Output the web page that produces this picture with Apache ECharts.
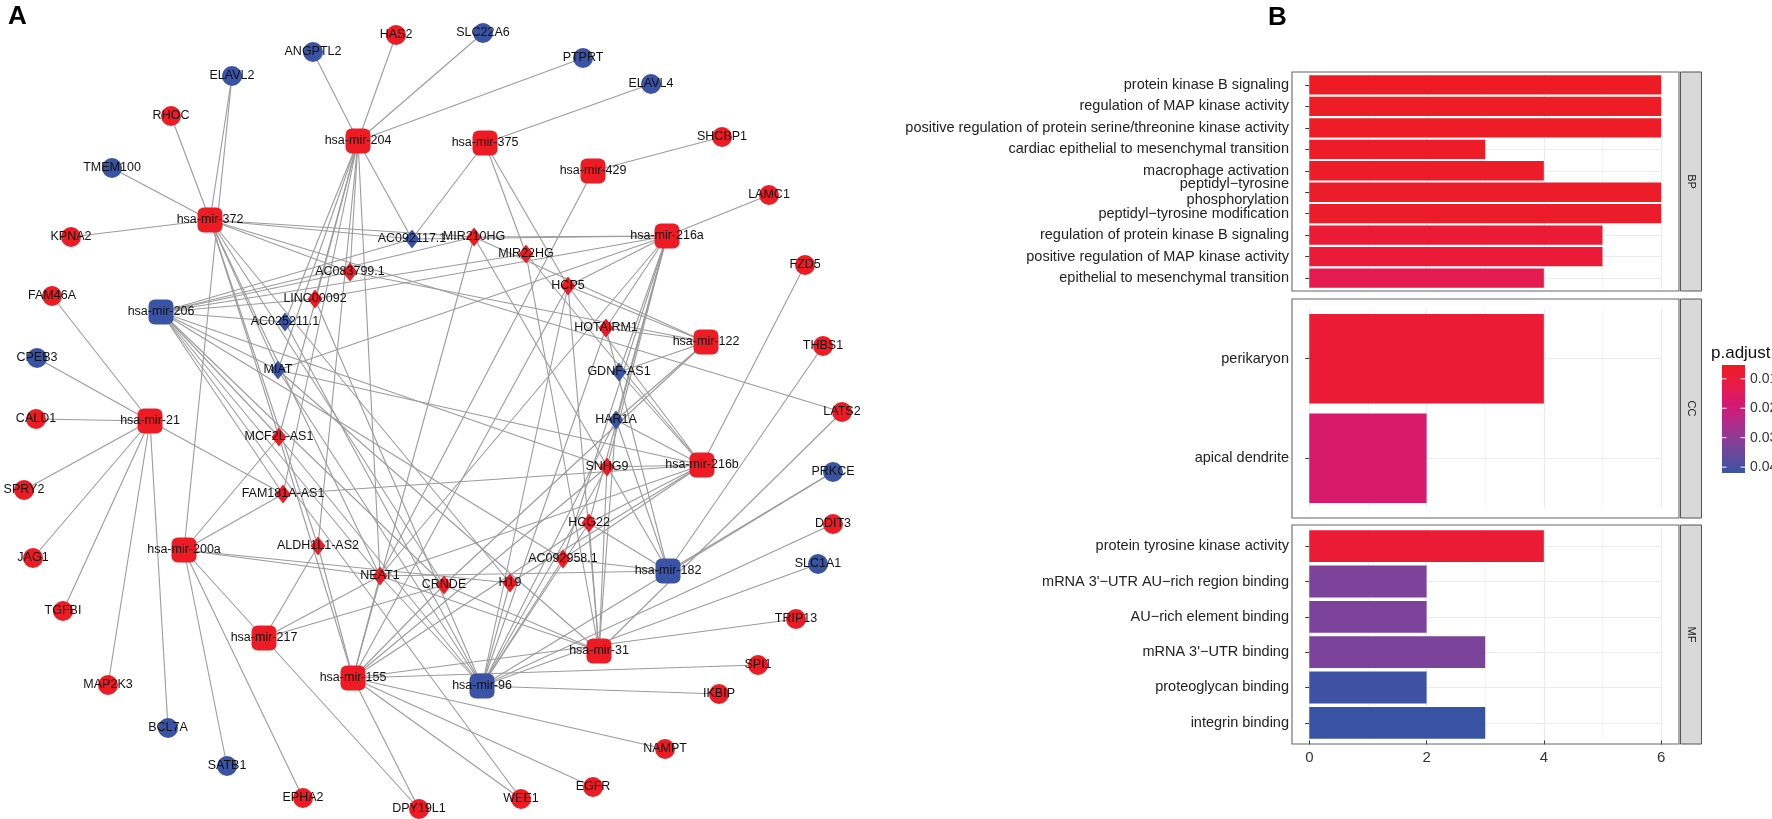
<!DOCTYPE html>
<html><head><meta charset="utf-8">
<script src="https://cdn.jsdelivr.net/npm/echarts@6/dist/echarts.min.js"></script>
<style>html,body{margin:0;padding:0;background:#fff}#c{width:1772px;height:819px}</style>
</head><body><div id="c"></div>
<script>
// ===== Panel A: ceRNA network (layout coordinates) =====
const nodeNames = [
 'hsa-mir-204','hsa-mir-375','hsa-mir-429','hsa-mir-372','hsa-mir-216a','hsa-mir-206','hsa-mir-122','hsa-mir-21',
 'hsa-mir-216b','hsa-mir-200a','hsa-mir-182','hsa-mir-217','hsa-mir-31','hsa-mir-155','hsa-mir-96',
 'AC092117.1','MIR210HG','MIR22HG','AC083799.1','HCP5','LINC00092','AC025211.1','HOTAIRM1','MIAT','GDNF-AS1',
 'HAR1A','MCF2L-AS1','SNHG9','FAM181A-AS1','HCG22','ALDH1L1-AS2','AC092958.1','NEAT1','CRNDE','H19',
 'HAS2','SLC22A6','ANGPTL2','PTPRT','ELAVL2','ELAVL4','RHOC','SHCBP1','TMEM100','LAMC1','KPNA2','FZD5',
 'FAM46A','THBS1','CPEB3','LATS2','CALD1','PRKCE','SPRY2','DDIT3','JAG1','SLC1A1','TGFBI','TRIP13','SPI1',
 'MAP2K3','IKBIP','BCL7A','NAMPT','SATB1','EGFR','EPHA2','WEE1','DPY19L1'
];
const nodeKind = [
 'mi','mi','mi','mi','mi','mi','mi','mi','mi','mi','mi','mi','mi','mi','mi',
 'lnc','lnc','lnc','lnc','lnc','lnc','lnc','lnc','lnc','lnc','lnc','lnc','lnc','lnc','lnc','lnc','lnc','lnc','lnc','lnc',
 'm','m','m','m','m','m','m','m','m','m','m','m','m','m','m','m','m','m','m','m','m','m','m','m','m','m','m','m','m','m','m','m','m','m'
];
const nodeDown = [
 0,0,0,0,0,1,0,0,0,0,1,0,0,0,1,
 1,0,0,0,0,0,1,0,1,1,1,0,0,0,0,0,0,0,0,0,
 0,1,1,1,1,1,0,0,1,0,0,0,0,0,1,0,0,1,0,0,0,1,0,0,0,0,0,1,0,1,0,0,0,0
];
const nodeX = [
 358,485,593,210,667,161,706,150,702,184,668,264,599,353,482,
 412,474,526,350,568,315,285,606,278,619,616,279,607,283,589,318,563,380,444,510,
 396,483,313,583,232,651,171,722,112,769,71,805,52,823,37,842,36,833,24,833,33,818,63,796,758,108,719,168,665,227,593,303,521,419
];
const nodeY = [
 141,143,171,220,236,312,342,421,465,550,571,638,651,678,686,
 239,237,254,272,286,299,322,328,370,372,420,437,467,494,523,546,559,576,585,583,
 35,33,52,58,76,84,116,137,168,195,237,265,296,346,358,412,419,472,490,524,558,564,611,619,665,685,694,728,749,766,787,798,799,809
];
const links = [
 ['ANGPTL2','hsa-mir-204'],['HAS2','hsa-mir-204'],['SLC22A6','hsa-mir-204'],['PTPRT','hsa-mir-204'],
 ['ELAVL4','hsa-mir-375'],['SHCBP1','hsa-mir-429'],['LAMC1','hsa-mir-216a'],['FZD5','hsa-mir-216b'],
 ['THBS1','hsa-mir-182'],['LATS2','hsa-mir-372'],['LATS2','hsa-mir-31'],['PRKCE','hsa-mir-182'],['PRKCE','hsa-mir-96'],
 ['DDIT3','hsa-mir-96'],['SLC1A1','hsa-mir-96'],['TRIP13','hsa-mir-155'],['SPI1','hsa-mir-155'],['IKBIP','hsa-mir-96'],
 ['NAMPT','hsa-mir-155'],['EGFR','hsa-mir-155'],['WEE1','hsa-mir-155'],['WEE1','hsa-mir-206'],['DPY19L1','hsa-mir-155'],
 ['DPY19L1','hsa-mir-200a'],['EPHA2','hsa-mir-200a'],['SATB1','hsa-mir-200a'],['BCL7A','hsa-mir-21'],['MAP2K3','hsa-mir-21'],
 ['TGFBI','hsa-mir-21'],['JAG1','hsa-mir-21'],['SPRY2','hsa-mir-21'],['CALD1','hsa-mir-21'],['CPEB3','hsa-mir-21'],
 ['FAM46A','hsa-mir-21'],['KPNA2','hsa-mir-372'],['TMEM100','hsa-mir-372'],['RHOC','hsa-mir-372'],['ELAVL2','hsa-mir-372'],
 ['ELAVL2','hsa-mir-200a'],
 ['AC092117.1','hsa-mir-372'],['AC092117.1','hsa-mir-204'],['AC092117.1','hsa-mir-375'],['AC092117.1','hsa-mir-216a'],['AC092117.1','hsa-mir-206'],
 ['MIR210HG','hsa-mir-372'],['MIR210HG','hsa-mir-216a'],['MIR210HG','hsa-mir-206'],['MIR210HG','hsa-mir-122'],['MIR210HG','hsa-mir-182'],['MIR210HG','hsa-mir-155'],
 ['MIR22HG','hsa-mir-375'],['MIR22HG','hsa-mir-206'],['MIR22HG','hsa-mir-216b'],['MIR22HG','hsa-mir-31'],
 ['AC083799.1','hsa-mir-372'],['AC083799.1','hsa-mir-204'],['AC083799.1','hsa-mir-206'],['AC083799.1','hsa-mir-122'],
 ['LINC00092','hsa-mir-204'],['LINC00092','hsa-mir-206'],['LINC00092','hsa-mir-216a'],['LINC00092','hsa-mir-96'],
 ['AC025211.1','hsa-mir-204'],['AC025211.1','hsa-mir-206'],['AC025211.1','hsa-mir-96'],
 ['HCP5','hsa-mir-375'],['HCP5','hsa-mir-122'],['HCP5','hsa-mir-216b'],['HCP5','hsa-mir-155'],['HCP5','hsa-mir-31'],['HCP5','hsa-mir-96'],['HCP5','hsa-mir-216a'],
 ['HOTAIRM1','hsa-mir-122'],['HOTAIRM1','hsa-mir-216a'],['HOTAIRM1','hsa-mir-182'],['HOTAIRM1','hsa-mir-96'],
 ['GDNF-AS1','hsa-mir-216a'],['GDNF-AS1','hsa-mir-216b'],['GDNF-AS1','hsa-mir-122'],
 ['MIAT','hsa-mir-204'],['MIAT','hsa-mir-372'],['MIAT','hsa-mir-206'],['MIAT','hsa-mir-216a'],['MIAT','hsa-mir-216b'],['MIAT','hsa-mir-96'],['MIAT','hsa-mir-31'],
 ['HAR1A','hsa-mir-216a'],['HAR1A','hsa-mir-122'],['HAR1A','hsa-mir-182'],['HAR1A','hsa-mir-96'],['HAR1A','hsa-mir-31'],['HAR1A','hsa-mir-216b'],
 ['MCF2L-AS1','hsa-mir-372'],['MCF2L-AS1','hsa-mir-204'],['MCF2L-AS1','hsa-mir-206'],['MCF2L-AS1','hsa-mir-155'],['MCF2L-AS1','hsa-mir-96'],['MCF2L-AS1','hsa-mir-200a'],
 ['SNHG9','hsa-mir-216b'],['SNHG9','hsa-mir-216a'],['SNHG9','hsa-mir-31'],['SNHG9','hsa-mir-96'],['SNHG9','hsa-mir-155'],['SNHG9','hsa-mir-206'],
 ['FAM181A-AS1','hsa-mir-21'],['FAM181A-AS1','hsa-mir-204'],['FAM181A-AS1','hsa-mir-216b'],['FAM181A-AS1','hsa-mir-200a'],['FAM181A-AS1','hsa-mir-206'],
 ['HCG22','hsa-mir-216a'],['HCG22','hsa-mir-216b'],['HCG22','hsa-mir-182'],['HCG22','hsa-mir-31'],['HCG22','hsa-mir-96'],['HCG22','hsa-mir-155'],
 ['ALDH1L1-AS2','hsa-mir-204'],['ALDH1L1-AS2','hsa-mir-217'],['ALDH1L1-AS2','hsa-mir-155'],['ALDH1L1-AS2','hsa-mir-372'],
 ['AC092958.1','hsa-mir-216a'],['AC092958.1','hsa-mir-182'],['AC092958.1','hsa-mir-96'],['AC092958.1','hsa-mir-216b'],['AC092958.1','hsa-mir-206'],
 ['NEAT1','hsa-mir-200a'],['NEAT1','hsa-mir-204'],['NEAT1','hsa-mir-429'],['NEAT1','hsa-mir-217'],['NEAT1','hsa-mir-182'],['NEAT1','hsa-mir-31'],
 ['NEAT1','hsa-mir-216b'],['NEAT1','hsa-mir-96'],['NEAT1','hsa-mir-155'],['NEAT1','hsa-mir-372'],['NEAT1','hsa-mir-206'],['NEAT1','hsa-mir-216a'],
 ['CRNDE','hsa-mir-217'],['CRNDE','hsa-mir-155'],['CRNDE','hsa-mir-31'],['CRNDE','hsa-mir-372'],['CRNDE','hsa-mir-206'],['CRNDE','hsa-mir-122'],
 ['H19','hsa-mir-200a'],['H19','hsa-mir-96'],['H19','hsa-mir-372'],['H19','hsa-mir-216b']
];

// ===== Panel B: GO enrichment barplot =====
const bpTerms = ['protein kinase B signaling','regulation of MAP kinase activity',
 'positive regulation of protein serine/threonine kinase activity','cardiac epithelial to mesenchymal transition',
 'macrophage activation','peptidyl\u2212tyrosine\nphosphorylation','peptidyl\u2212tyrosine modification',
 'regulation of protein kinase B signaling','positive regulation of MAP kinase activity','epithelial to mesenchymal transition'];
const bpCounts = [6,6,6,3,4,6,6,5,5,4];
const bpPadj = [0.0053,0.0055,0.0057,0.0059,0.0061,0.0063,0.0065,0.0088,0.0090,0.0128];
const ccTerms = ['perikaryon','apical dendrite'];
const ccCounts = [4,2];
const ccPadj = [0.0088,0.0175];
const mfTerms = ['protein tyrosine kinase activity','mRNA 3\'\u2212UTR AU\u2212rich region binding','AU\u2212rich element binding',
 'mRNA 3\'\u2212UTR binding','proteoglycan binding','integrin binding'];
const mfCounts = [4,2,2,3,2,3];
const mfPadj = [0.0085,0.0325,0.0326,0.0328,0.0415,0.0420];
const facetNames = ['BP','CC','MF'];
const xTicks = [0,2,4,6];
const legendTicks = [0.01,0.02,0.03,0.04];

const RED = '#ED1C24', BLUE = '#3A53A4';
const FONT = 'Liberation Sans, Arial, Helvetica, sans-serif';
const ramp = ['#ED1C24','#EB1B3C','#E21A58','#D21A74','#B92786','#9A3592','#7B4399','#5A4C9F','#3953A4'];

const nodes = nodeNames.map((n,i)=>{
  const k = nodeKind[i];
  return {
    name: n, value: [nodeX[i], nodeY[i]],
    symbol: k==='mi' ? 'roundRect' : (k==='lnc' ? 'diamond' : 'circle'),
    symbolSize: k==='mi' ? 25 : (k==='lnc' ? [15,19] : 20),
    itemStyle: {color: nodeDown[i] ? BLUE : RED}
  };
});

const facets = [
  {terms: bpTerms, counts: bpCounts, padj: bpPadj},
  {terms: ccTerms, counts: ccCounts, padj: ccPadj},
  {terms: mfTerms, counts: mfCounts, padj: mfPadj}
];
const allP = bpPadj.concat(ccPadj, mfPadj);
const pMin = Math.min(...allP), pMax = Math.max(...allP);

// facet panel geometry (pixels)
const panelL = 1292, panelR = 1679, panelH = 219;
const panelTops = [72, 299, 525];
const x0 = 1309.3, unitX = (panelR - panelL) / 6.6;
const innerW = unitX * 6;

const grids = [{left: 0, top: 0, width: 880, height: 819, outerBoundsMode: 'none'}];
const xAxes = [{type: 'value', gridIndex: 0, min: 0, max: 880, show: false}];
const yAxes = [{type: 'value', gridIndex: 0, min: 0, max: 819, inverse: true, show: false}];
const series = [{
  type: 'graph', coordinateSystem: 'cartesian2d', xAxisIndex: 0, yAxisIndex: 0,
  data: nodes, links: links.map(l=>({source: l[0], target: l[1]})),
  label: {show: true, position: 'inside', color: '#111', fontSize: 12.5, fontFamily: FONT},
  lineStyle: {color: '#9b9b9b', width: 1.1, opacity: 1, curveness: 0},
  emphasis: {disabled: true}, silent: true, z: 2
}];

facets.forEach((f, i) => {
  const n = f.terms.length;
  const unitY = panelH / (n + 0.2);
  const gi = i + 1;
  grids.push({left: x0, width: innerW, top: panelTops[i] + 0.1 * unitY, height: n * unitY, outerBoundsMode: 'none'});
  xAxes.push({
    type: 'value', gridIndex: gi, min: 0, max: 6, interval: 2,
    axisLine: {show: false},
    axisTick: {show: i === 2, length: 4, lineStyle: {color: '#333', width: 1}},
    axisLabel: {show: i === 2, color: '#333', fontSize: 15, fontFamily: FONT, margin: 6 + 0.1 * unitY},
    splitLine: {show: true, lineStyle: {color: '#EBEBEB', width: 1.2}},
    minorTick: {show: false, splitNumber: 2},
    minorSplitLine: {show: true, lineStyle: {color: '#F2F2F2', width: 0.8}}
  });
  yAxes.push({
    type: 'category', gridIndex: gi, data: f.terms, inverse: true, offset: x0 - panelL,
    axisLine: {show: false},
    axisTick: {show: true, alignWithLabel: true, length: 4, lineStyle: {color: '#333', width: 1}},
    axisLabel: {color: '#222', fontSize: 14.5, fontFamily: FONT, margin: 3, lineHeight: 15.5, interval: 0},
    splitLine: {show: false}
  });
  series.push({
    type: 'bar', xAxisIndex: gi, yAxisIndex: gi,
    data: f.terms.map((t, j) => [f.counts[j], t, f.padj[j]]),
    encode: {x: 0, y: 1}, barCategoryGap: '10%', silent: true, z: 2,
    markLine: {
      silent: true, symbol: ['none','none'], z: 1, animation: false,
      label: {show: false}, lineStyle: {color: '#EBEBEB', width: 1.2, type: 'solid'},
      data: f.terms.map(t => ({yAxis: t}))
    }
  });
});

// decorations: panel borders, strips, legend, panel letters
const graphics = [];
facets.forEach((f, i) => {
  graphics.push({type: 'rect', silent: true, z: 10,
    shape: {x: panelL, y: panelTops[i], width: panelR - panelL, height: panelH},
    style: {fill: 'none', stroke: '#666', lineWidth: 1.1}});
  graphics.push({type: 'rect', silent: true, z: 10,
    shape: {x: panelR + 1.5, y: panelTops[i], width: 21, height: panelH},
    style: {fill: '#D9D9D9', stroke: '#555', lineWidth: 1}});
  graphics.push({type: 'text', silent: true, z: 11, x: panelR + 12, y: panelTops[i] + panelH / 2, rotation: -Math.PI / 2,
    style: {text: facetNames[i], fill: '#1A1A1A', fontSize: 11, fontFamily: FONT,
      align: 'center', verticalAlign: 'middle', textAlign: 'center', textVerticalAlign: 'middle'}});
});
const barTop = 365, barH = 108, barX = 1722, barW = 23;
graphics.push({type: 'text', silent: true, z: 11, x: 1711, y: barTop - 3,
  style: {text: 'p.adjust', fill: '#111', fontSize: 17, fontFamily: FONT,
    align: 'left', verticalAlign: 'bottom', textAlign: 'left', textVerticalAlign: 'bottom'}});
graphics.push({type: 'rect', silent: true, z: 10, shape: {x: barX, y: barTop, width: barW, height: barH},
  style: {fill: {type: 'linear', x: 0, y: 0, x2: 0, y2: 1,
    colorStops: ramp.map((c, k) => ({offset: k / (ramp.length - 1), color: c}))}}});
legendTicks.forEach(v => {
  const yy = barTop + (v - pMin) / (pMax - pMin) * barH;
  graphics.push({type: 'line', silent: true, z: 11, shape: {x1: barX, y1: yy, x2: barX + 4.5, y2: yy}, style: {stroke: '#fff', lineWidth: 1}});
  graphics.push({type: 'line', silent: true, z: 11, shape: {x1: barX + barW - 4.5, y1: yy, x2: barX + barW, y2: yy}, style: {stroke: '#fff', lineWidth: 1}});
  graphics.push({type: 'text', silent: true, z: 11, x: barX + barW + 5, y: yy,
    style: {text: v.toFixed(2), fill: '#333', fontSize: 14, fontFamily: FONT,
      align: 'left', verticalAlign: 'middle', textAlign: 'left', textVerticalAlign: 'middle'}});
});
graphics.push({type: 'text', silent: true, z: 11, x: 8, y: 4,
  style: {text: 'A', fill: '#000', fontSize: 26, fontWeight: 'bold', fontFamily: FONT}});
graphics.push({type: 'text', silent: true, z: 11, x: 1268, y: 5,
  style: {text: 'B', fill: '#000', fontSize: 26, fontWeight: 'bold', fontFamily: FONT}});

const chart = echarts.init(document.getElementById('c'), null, {renderer: 'canvas'});
chart.setOption({
  animation: false,
  backgroundColor: '#fff',
  grid: grids, xAxis: xAxes, yAxis: yAxes, series: series,
  visualMap: {type: 'continuous', show: false, seriesIndex: [1, 2, 3], dimension: 2,
    min: pMin, max: pMax, inRange: {color: ramp}},
  graphic: {elements: graphics}
});
</script></body></html>
